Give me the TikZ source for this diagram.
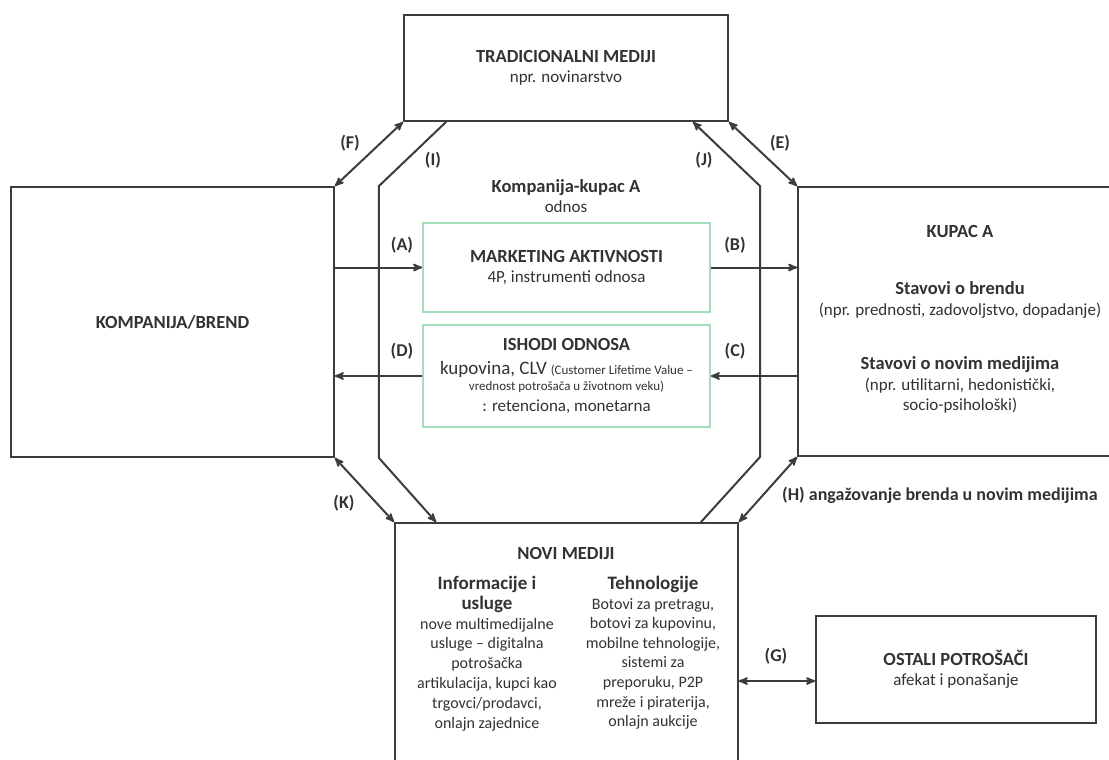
\documentclass[tikz,border=0pt]{standalone}
\usepackage{fontspec}
\setmainfont{Carlito}
\usepackage{tikz}
\usetikzlibrary{arrows,positioning}
\definecolor{linecol}{RGB}{60,60,60}
\definecolor{textcol}{RGB}{50,50,50}
\definecolor{greencol}{RGB}{165,220,185}
\newcommand{\headtxt}[1]{{\fontsize{18.5}{21}\selectfont\bfseries #1}}
\newcommand{\smalltxt}[1]{{\fontsize{13}{14}\selectfont #1}}

\begin{document}
\begin{tikzpicture}[x=1pt,y=-1pt,>=stealth',font=\fontsize{17}{20.5}\selectfont,text=textcol]
 \tikzstyle{box}=[draw=linecol,line width=1.8pt,rectangle,inner sep=0pt,align=center]
 \tikzstyle{greenbox}=[draw=greencol,line width=1.8pt,rectangle,inner sep=0pt,align=center]
 \tikzstyle{txt}=[inner sep=0pt,align=center]
 \tikzstyle{lbl}=[inner sep=0pt,font=\fontsize{18}{20}\selectfont\bfseries]
 \tikzstyle{link}=[draw=linecol,line width=2pt]

 \useasboundingbox (0,0) rectangle (1109,760);

   % boxes
   \node[box,minimum width=324,minimum height=106] (trad) at (566,68) {\headtxt{TRADICIONALNI MEDIJI}\\npr. novinarstvo};
   \node[box,minimum width=323,minimum height=270] (komp) at (172.5,322) {\headtxt{KOMPANIJA/BREND}};
   \node[box,minimum width=327,minimum height=269] (kupac) at (961.5,321.5) {};
   \node[box,minimum width=343,minimum height=277] (novi) at (566.5,661.5) {};
   \node[box,minimum width=280,minimum height=107] (ostali) at (956,669.5) {\headtxt{OSTALI POTROŠAČI}\\afekat i ponašanje};
   \node[greenbox,minimum width=287,minimum height=89] (mark) at (566.5,267.5) {\headtxt{MARKETING AKTIVNOSTI}\\4P, instrumenti odnosa};
   \node[greenbox,minimum width=287,minimum height=102] (ishodi) at (566.5,376) {\headtxt{ISHODI ODNOSA}\\[3pt]{\fontsize{19}{21}\selectfont kupovina, CLV} \smalltxt{(Customer Lifetime Value –}\\[-4pt]\smalltxt{vrednost potrošača u životnom veku)}\\: retenciona, monetarna};

   % texts
   \node[txt] (odnos) at (566,196) {\headtxt{Kompanija-kupac A}\\odnos};
   \node[txt] (kupacA) at (960,232) {\headtxt{KUPAC A}};
   \node[txt] (brend) at (960,300) {\headtxt{Stavovi o brendu}\\(npr. prednosti, zadovoljstvo, dopadanje)};
   \node[txt] (nmed) at (960,385) {\headtxt{Stavovi o novim medijima}\\(npr. utilitarni, hedonistički,\\socio-psihološki)};
   \node[txt] (novinaslov) at (566,553) {\headtxt{NOVI MEDIJI}};
   \node[txt,anchor=north,font=\fontsize{16}{19.8}\selectfont] (info) at (487,576) {{\fontsize{19}{23}\selectfont\bfseries Informacije i}\\{\fontsize{19}{23}\selectfont\bfseries usluge}\\nove multimedijalne\\usluge – digitalna\\potrošačka\\artikulacija, kupci kao\\trgovci/prodavci,\\onlajn zajednice};
   \node[txt,anchor=north,font=\fontsize{16}{19.6}\selectfont] (tehn) at (653,576) {{\fontsize{19}{23}\selectfont\bfseries Tehnologije}\\Botovi za pretragu,\\botovi za kupovinu,\\mobilne tehnologije,\\sistemi za\\preporuku, P2P\\mreže i piraterija,\\onlajn aukcije};

   % connectors
   \draw[link,->] (komp.east |- mark.west) -- (mark.west);
   \draw[link,->] (mark.east) -- (mark.east -| kupac.west);
   \draw[link,->] (kupac.west |- ishodi.east) -- (ishodi.east);
   \draw[link,->] (ishodi.west) -- (ishodi.west -| komp.east);
   \draw[link,<->] (trad.south west) -- (komp.north east);
   \draw[link,<->] (trad.south east) -- (kupac.north west);
   \draw[link,<->] (komp.south east) -- (novi.north west);
   \draw[link,<->] (kupac.south west) -- (novi.north east);
   \draw[link,->] ([xshift=43]trad.south west) -- ([xshift=44]komp.north east) -- ([xshift=44]komp.south east) -- ([xshift=42]novi.north west);
   \draw[link,->] ([xshift=-38]novi.north east) -- ([xshift=-37]kupac.south west) -- ([xshift=-37]kupac.north west) -- ([xshift=-36]trad.south east);
   \coordinate (g) at ([yshift=-11.5]ostali.west);
   \draw[link,<->] (g -| novi.east) -- (g);

   % labels
   \node[lbl] (lF) at (350,143) {(F)};
   \node[lbl] (lI) at (433,160) {(I)};
   \node[lbl] (lJ) at (704,160) {(J)};
   \node[lbl] (lE) at (780,143) {(E)};
   \node[lbl] (lA) at (402,245) {(A)};
   \node[lbl] (lB) at (735,245) {(B)};
   \node[lbl] (lD) at (402,351) {(D)};
   \node[lbl] (lC) at (735,351) {(C)};
   \node[lbl] (lK) at (344,503) {(K)};
   \node[lbl,anchor=west] (lH) at (782,495) {(H) angažovanje brenda u novim medijima};
   \node[lbl] (lG) at (776,656) {(G)};

\end{tikzpicture}
\end{document}
